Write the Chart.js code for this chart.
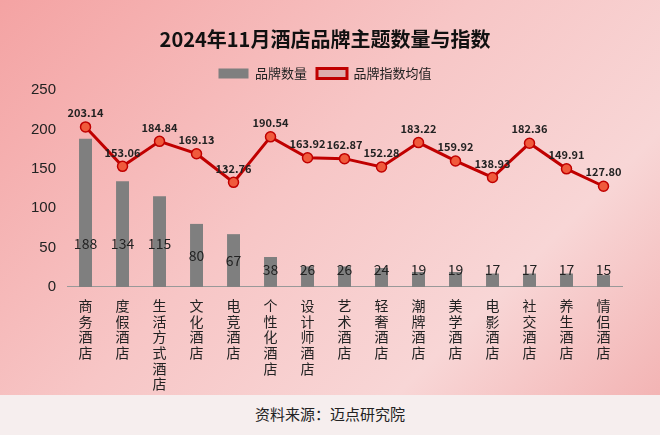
<!DOCTYPE html>
<html><head><meta charset="utf-8">
<script src="https://cdn.jsdelivr.net/npm/chart.js@4"></script>
<style>
body{margin:0;width:660px;height:435px;overflow:hidden;font-family:"Noto Sans CJK SC",sans-serif}
#wrap{position:absolute;left:0;top:0;width:660px;height:395px;background:linear-gradient(135deg,#f4a3a3 0%,#f7c6c6 45%,#f8d6d6 75%,#f3b4b4 100%)}
#src{position:absolute;left:0;top:395px;width:660px;height:40px;background:#f6eeee;text-align:center;line-height:38px;font-size:15px;color:#222}
</style></head><body>
<div id="wrap"><canvas id="c" width="660" height="395"></canvas></div>
<div id="src">资料来源：迈点研究院</div>
<script>
const categories = ['商务酒店','度假酒店','生活方式酒店','文化酒店','电竞酒店','个性化酒店','设计师酒店','艺术酒店','轻奢酒店','潮牌酒店','美学酒店','电影酒店','社交酒店','养生酒店','情侣酒店'];
const brandCounts = [188,134,115,80,67,38,26,26,24,19,19,17,17,17,15];
const indexAvg = [203.14,153.06,184.84,169.13,132.76,190.54,163.92,162.87,152.28,183.22,159.92,138.93,182.36,149.91,127.80];

const labelPlugin = {
    id: 'labels',
    afterDatasetsDraw(chart) {
        const c = chart.ctx;
        const y = chart.scales.y;
        c.save();
        c.textAlign = 'center';
        c.textBaseline = 'middle';
        c.font = '14px "Noto Sans CJK SC"';
        c.fillStyle = '#222';
        chart.getDatasetMeta(0).data.forEach((bar, i) => {
            const v = brandCounts[i];
            c.fillText(v, bar.x, y.getPixelForValue(Math.min(Math.max(v / 2, 22), 55)));
        });
        c.font = 'bold 11px "Noto Sans CJK SC"';
        chart.getDatasetMeta(1).data.forEach((pt, i) => {
            c.fillText(indexAvg[i].toFixed(2), pt.x, pt.y - 14);
        });
        c.restore();
    }
};

new Chart(document.getElementById('c'), {
    data: {
        labels: categories.map(s => s.split('')),
        datasets: [{
            type: 'bar',
            label: '品牌数量',
            data: brandCounts,
            backgroundColor: '#7f7f7f',
            barPercentage: 0.35,
            categoryPercentage: 1,
            order: 2
        }, {
            type: 'line',
            label: '品牌指数均值',
            data: indexAvg,
            borderColor: '#c00000',
            borderWidth: 3,
            pointBackgroundColor: '#f05a3c',
            pointBorderColor: '#c00000',
            pointBorderWidth: 1.5,
            pointRadius: 5,
            tension: 0,
            order: 1
        }]
    },
    options: {
        responsive: false,
        animation: false,
        layout: { padding: { left: 28, right: 38, top: 5, bottom: 0 } },
        plugins: {
            title: {
                display: true,
                text: '2024年11月酒店品牌主题数量与指数',
                color: '#111',
                font: { size: 20, weight: 'bold', family: '"Noto Sans CJK SC"' },
                padding: { top: 22, bottom: 6 }
            },
            legend: {
                labels: {
                    color: '#222',
                    font: { size: 13, family: '"Noto Sans CJK SC"' },
                    boxWidth: 30, boxHeight: 10,
                    sort: (a, b) => a.datasetIndex - b.datasetIndex
                }
            },
            tooltip: { enabled: false }
        },
        scales: {
            y: {
                min: 0, max: 250,
                ticks: { stepSize: 50, color: '#222', font: { size: 15 } },
                grid: { display: false },
                border: { display: false }
            },
            x: {
                grid: { display: false },
                border: { color: '#999' },
                ticks: { color: '#222', font: { size: 14, lineHeight: 1.12, family: '"Noto Sans CJK SC"' }, maxRotation: 0, autoSkip: false }
            }
        }
    },
    plugins: [labelPlugin]
});
</script>
</body></html>
